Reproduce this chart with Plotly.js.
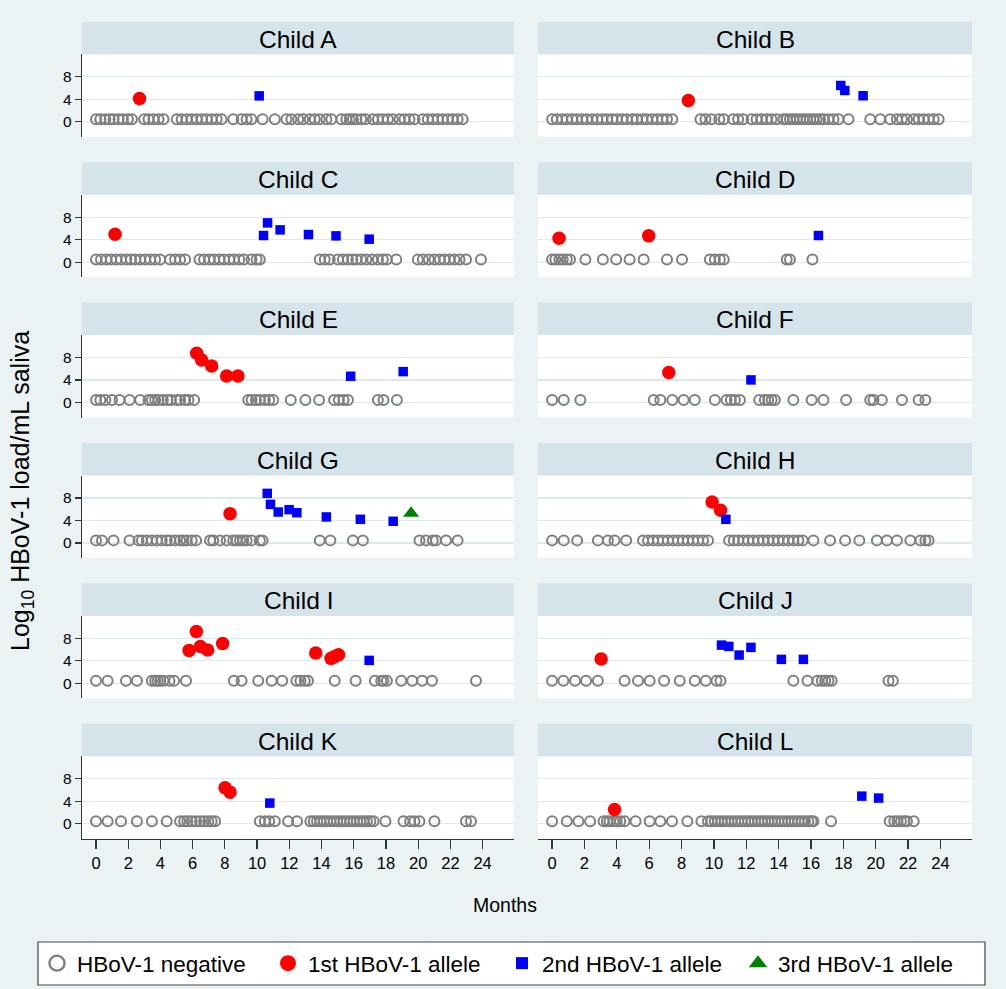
<!DOCTYPE html>
<html><head><meta charset="utf-8">
<script src="https://cdn.plot.ly/plotly-3.0.1.min.js"></script>
<style>html,body{margin:0;padding:0;background:#ffffff}</style>
</head><body>
<div id="chart" style="width:1006px;height:989px"></div>
<script>
// ---------------- data (months of age, log10 load/mL) ----------------
const childNames = ['A','B','C','D','E','F','G','H','I','J','K','L'];
const monthTicks = [0,2,4,6,8,10,12,14,16,18,20,22,24];
const loadTicks = [0,4,8];
const NEG_LEVEL = 0.45;

const A_neg = [0,0.27,0.58,0.85,1.09,1.40,1.67,1.98,2.23,2.99,3.26,3.57,3.88,4.19,5.01,5.32,5.63,5.94,6.25,6.57,6.87,7.18,7.49,7.80,8.52,9.04,9.35,9.65,10.34,11.10,11.82,12.13,12.55,12.86,13.27,13.58,13.89,14.30,14.61,15.23,15.54,15.75,15.95,16.16,16.47,16.74,17.19,17.50,17.81,18.12,18.43,18.84,19.15,19.46,19.77,20.29,20.60,20.91,21.22,21.52,21.84,22.14,22.45,22.76];
const A_1m = [2.70], A_1v = [4.14];
const A_2m = [10.13], A_2v = [4.60];

const B_neg = [0,0.29,0.62,0.91,1.24,1.53,1.86,2.15,2.48,2.79,3.10,3.39,3.72,4.00,4.33,4.62,4.96,5.24,5.57,5.86,6.19,6.50,6.81,7.10,7.43,9.17,9.48,9.85,10.33,10.61,11.19,11.50,11.81,12.33,12.64,12.95,13.26,13.56,13.88,14.29,14.50,14.70,14.91,15.12,15.32,15.53,15.73,15.94,16.15,16.35,16.56,16.77,17.08,17.39,17.70,18.32,19.66,20.28,20.90,21.31,21.62,21.93,22.34,22.65,22.96,23.27,23.58,23.89];
const B_1m = [8.42], B_1v = [3.79];
const B_2m = [17.84,18.09,19.22], B_2v = [6.45,5.56,4.62];

const C_neg = [0,0.31,0.64,0.93,1.26,1.55,1.88,2.17,2.43,2.74,3.05,3.36,3.67,3.98,4.60,4.91,5.22,5.53,6.42,6.71,7.04,7.33,7.66,7.95,8.27,8.56,8.89,9.18,9.65,9.97,10.17,13.89,14.20,14.51,15.02,15.33,15.64,15.91,16.16,16.47,16.78,17.15,17.50,17.81,18.06,18.64,19.98,20.29,20.66,21.01,21.34,21.63,21.94,22.25,22.57,22.97,23.90];
const C_1m = [1.18], C_1v = [4.97];
const C_2m = [10.40,10.65,11.43,13.19,14.90,16.96], C_2v = [4.73,6.98,5.74,4.91,4.67,4.08];

const D_neg = [0,0.20,0.45,0.66,0.91,1.11,2.06,3.14,3.96,4.79,5.66,7.10,8.03,9.75,10.06,10.37,10.61,14.50,14.70,16.09];
const D_1m = [0.43,5.97], D_1v = [4.26,4.67];
const D_2m = [16.46], D_2v = [4.73];

const E_neg = [0,0.27,0.58,0.99,1.46,2.08,2.74,3.26,3.46,3.67,3.88,4.15,4.44,4.65,5.01,5.22,5.53,5.74,6.09,9.45,9.66,9.93,10.17,10.48,10.75,11.00,12.09,13.00,13.85,14.78,15.08,15.37,15.64,17.50,17.85,18.68];
const E_1m = [6.25,6.56,7.18,8.11,8.81], E_1v = [8.76,7.57,6.51,4.73,4.73];
const E_2m = [15.81,19.07], E_2v = [4.67,5.50];

const F_neg = [0,0.72,1.75,6.28,6.69,7.43,8.13,8.82,10.06,10.78,11.05,11.30,11.61,12.80,13.15,13.36,13.57,13.77,14.91,16.04,16.77,18.17,19.66,19.86,20.38,21.62,22.65,23.07];
const F_1m = [7.21], F_1v = [5.33];
const F_2m = [12.29], F_2v = [4.02];

const G_neg = [0,0.37,1.09,2.08,2.64,2.85,3.15,3.47,3.78,4.08,4.39,4.60,4.91,5.22,5.43,5.63,5.94,6.21,7.08,7.28,7.70,8.11,8.52,8.73,8.94,9.14,9.35,9.66,10.17,10.34,13.89,14.55,15.95,16.57,20.08,20.49,20.91,21.11,21.73,22.45];
const G_1m = [8.32], G_1v = [5.21];
const G_2m = [10.63,10.83,11.31,11.99,12.47,14.30,16.41,18.45], G_2v = [8.82,6.86,5.50,5.92,5.38,4.62,4.20,3.85];
const G_3m = [19.56], G_3v = [5.27];

const H_neg = [0,0.72,1.55,2.83,3.45,3.86,4.58,5.62,5.93,6.24,6.55,6.85,7.16,7.47,7.78,8.09,8.40,8.71,9.02,9.33,9.64,10.94,11.23,11.50,11.81,12.12,12.43,12.74,13.05,13.36,13.67,13.98,14.29,14.60,14.91,15.22,15.49,16.15,17.18,18.11,18.99,20.07,20.69,21.31,22.14,22.76,23.07,23.27];
const H_1m = [9.89,10.41], H_1v = [7.28,5.80];
const H_2m = [10.74], H_2v = [4.20];

const I_neg = [0,0.72,1.86,2.54,3.47,3.67,3.82,3.98,4.19,4.56,4.85,5.59,8.56,9.04,10.07,10.90,11.56,12.44,12.69,12.96,13.16,14.82,16.12,17.31,17.71,17.85,18.06,18.95,19.63,20.25,20.86,23.59];
const I_1m = [5.78,6.23,6.48,6.93,7.86,13.64,14.59,14.82,15.06], I_1v = [5.86,9.23,6.57,5.92,7.10,5.38,4.44,4.79,5.09];
const I_2m = [16.96], I_2v = [4.08];

const J_neg = [0,0.70,1.42,2.10,2.83,4.48,5.31,6.03,6.92,7.89,8.82,9.50,10.16,10.41,14.91,15.78,16.40,16.67,16.87,17.08,17.28,20.79,21.06];
const J_1m = [3.03], J_1v = [4.32];
const J_2m = [10.47,10.92,11.56,12.29,14.17,15.53], J_2v = [6.80,6.57,5.03,6.39,4.26,4.26];

const K_neg = [0,0.72,1.55,2.54,3.47,4.39,5.22,5.47,5.67,5.94,6.21,6.46,6.71,6.97,7.18,7.39,10.17,10.48,10.75,11.10,11.93,12.48,13.31,13.52,13.72,13.93,14.14,14.34,14.55,14.76,14.96,15.17,15.38,15.58,15.79,16.00,16.20,16.41,16.61,16.82,17.03,17.23,17.97,19.09,19.50,19.77,20.08,21.01,22.97,23.28];
const K_1m = [8.01,8.32], K_1v = [6.39,5.62];
const K_2m = [10.79], K_2v = [3.67];

const L_neg = [0,0.91,1.63,2.35,3.18,3.39,3.55,3.80,4.00,4.21,4.48,5.16,6.03,6.69,7.41,8.36,9.23,9.64,9.85,10.06,10.26,10.47,10.68,10.88,11.09,11.30,11.50,11.71,11.92,12.12,12.33,12.53,12.74,12.95,13.15,13.36,13.57,13.77,13.98,14.19,14.39,14.60,14.81,15.01,15.22,15.43,15.63,15.84,16.04,16.15,17.24,20.86,21.15,21.35,21.56,21.77,21.93,22.35];
const L_1m = [3.86], L_1v = [2.54];
const L_2m = [19.14,20.18], L_2v = [4.91,4.56];

const seriesNames = ['HBoV-1 negative','1st HBoV-1 allele','2nd HBoV-1 allele','3rd HBoV-1 allele'];

// table assembled from the arrays above
const panels = {
  A:{neg:A_neg, s1:[A_1m,A_1v], s2:[A_2m,A_2v]},
  B:{neg:B_neg, s1:[B_1m,B_1v], s2:[B_2m,B_2v]},
  C:{neg:C_neg, s1:[C_1m,C_1v], s2:[C_2m,C_2v]},
  D:{neg:D_neg, s1:[D_1m,D_1v], s2:[D_2m,D_2v]},
  E:{neg:E_neg, s1:[E_1m,E_1v], s2:[E_2m,E_2v]},
  F:{neg:F_neg, s1:[F_1m,F_1v], s2:[F_2m,F_2v]},
  G:{neg:G_neg, s1:[G_1m,G_1v], s2:[G_2m,G_2v], s3:[G_3m,G_3v]},
  H:{neg:H_neg, s1:[H_1m,H_1v], s2:[H_2m,H_2v]},
  I:{neg:I_neg, s1:[I_1m,I_1v], s2:[I_2m,I_2v]},
  J:{neg:J_neg, s1:[J_1m,J_1v], s2:[J_2m,J_2v]},
  K:{neg:K_neg, s1:[K_1m,K_1v], s2:[K_2m,K_2v]},
  L:{neg:L_neg, s1:[L_1m,L_1v], s2:[L_2m,L_2v]}
};

// ---------------- styling / geometry ----------------
const W = 1006, H = 989;
const FONT = 'Liberation Sans, Arial, Helvetica, sans-serif';
const colX = [[82,514],[538,972]];
const ROW0 = 21.7, ROWSTEP = 140.4, HEAD = 32.6, PANEL = 115;
const styles = [
  {mode:'markers', marker:{symbol:'circle-open', size:10, color:'#7f7f7f', line:{width:2, color:'#7f7f7f'}}},
  {mode:'markers', marker:{symbol:'circle', size:13.5, color:'#ff0000'}},
  {mode:'markers', marker:{symbol:'square', size:9.5, color:'#0000ff'}},
  {mode:'markers', marker:{symbol:'triangle-up', size:14, color:'#007f00'}}
];
// larger key symbols for the legend box
const keyStyles = [
  {mode:'markers', marker:{symbol:'circle-open', size:15, color:'#7f7f7f', line:{width:2.4, color:'#7f7f7f'}}},
  {mode:'markers', marker:{symbol:'circle', size:16, color:'#ff0000'}},
  {mode:'markers', marker:{symbol:'square', size:12, color:'#0000ff'}},
  {mode:'markers', marker:{symbol:'triangle-up', size:16, color:'#007f00'}}
];
const legendIds = ['legend','legend2','legend3','legend4'];

const traces = [];
const layout = {
  width: W, height: H,
  margin:{l:0,r:0,t:0,b:0},
  paper_bgcolor:'#eaf2f3',
  plot_bgcolor:'#ffffff',
  font:{family:FONT, color:'#000'},
  shapes:[], annotations:[]
};

function addTrace(k, xs, ys, axn){
  traces.push(Object.assign({type:'scatter', x:xs, y:ys, name:seriesNames[k],
    xaxis:'x'+axn, yaxis:'y'+axn, cliponaxis:false, hoverinfo:'x+y',
    showlegend:false}, JSON.parse(JSON.stringify(styles[k]))));
}

childNames.forEach((c, i) => {
  const row = Math.floor(i/2), col = i%2;
  const n = i+1;
  const axn = n === 1 ? '' : String(n);
  const top = ROW0 + ROWSTEP*row;
  const hb = top + HEAD, pb = top + PANEL;
  const xd = [colX[col][0]/W, colX[col][1]/W];
  const yd = [1 - pb/H, 1 - hb/H];
  const bottom = row === 5, left = col === 0;
  layout['xaxis'+axn] = {
    domain: xd, range:[-0.87, 25.95], anchor:'y'+axn,
    tickvals: monthTicks, ticktext: monthTicks.map(String),
    showticklabels: bottom, ticks: bottom ? 'outside':'', ticklen:9, tickwidth:1.2, tickcolor:'#333',
    showline: bottom, linecolor:'#333', linewidth:1.2,
    showgrid:false, zeroline:false, fixedrange:true,
    tickfont:{size:16.5, family:FONT, color:'#000'}
  };
  layout['yaxis'+axn] = {
    domain: yd, range:[-2.67, 12], anchor:'x'+axn,
    tickvals: loadTicks, ticktext: loadTicks.map(String),
    showticklabels: left, ticks: left ? 'outside':'', ticklen:6, tickwidth:1.2, tickcolor:'#333',
    showline: left, linecolor:'#333', linewidth:1.2,
    showgrid:true, gridcolor:'#dde9ec', gridwidth:1.2, zeroline:false, fixedrange:true,
    tickfont:{size:15.5, family:FONT, color:'#000'}
  };
  // header strip
  layout.shapes.push({type:'rect', xref:'paper', yref:'paper', x0:xd[0], x1:xd[1],
    y0:1-hb/H, y1:1-top/H, fillcolor:'#d5e4eb', line:{width:0}, layer:'below'});
  layout.annotations.push({xref:'paper', yref:'paper', x:(xd[0]+xd[1])/2, y:1-(top+HEAD/2+1)/H,
    text:'Child '+c, showarrow:false, xanchor:'center', yanchor:'middle',
    font:{size:24.5, family:FONT, color:'#000'}});
  const p = panels[c];
  addTrace(0, p.neg, p.neg.map(() => NEG_LEVEL), axn);
  addTrace(1, p.s1[0], p.s1[1], axn);
  addTrace(2, p.s2[0], p.s2[1], axn);
  if (p.s3) addTrace(3, p.s3[0], p.s3[1], axn);
});

// legend key entries (a single missing value each, so only the legend key is drawn)
seriesNames.forEach((nm, k) => {
  traces.push(Object.assign({type:'scatter', x:[null], y:[null], name:nm, xaxis:'x', yaxis:'y',
    showlegend:true, legend:legendIds[k], hoverinfo:'skip'}, JSON.parse(JSON.stringify(keyStyles[k]))));
});

// axis titles
layout.annotations.push({xref:'paper', yref:'paper', x:505/W, y:1-905/H, text:'Months',
  showarrow:false, xanchor:'center', yanchor:'middle', font:{size:19.5, family:FONT, color:'#000'}});
layout.annotations.push({xref:'paper', yref:'paper', x:22/W, y:1-491/H,
  text:'Log<sub>10</sub> HBoV-1 load/mL saliva', textangle:-90,
  showarrow:false, xanchor:'center', yanchor:'middle', font:{size:25, family:FONT, color:'#000'}});

// legend frame
layout.shapes.push({type:'rect', xref:'paper', yref:'paper', x0:38/W, x1:985/W, y0:1-985/H, y1:1-942/H,
  fillcolor:'#ffffff', line:{color:'#444', width:1.2}, layer:'below'});
const legX = [57, 288, 522, 758];
legendIds.forEach((id, k) => {
  layout[id] = {x:(legX[k]-20)/W, xanchor:'left', y:1-963.5/H, yanchor:'middle',
    orientation:'h', bgcolor:'rgba(0,0,0,0)', borderwidth:0,
    font:{size:22.5, family:FONT, color:'#000'}};
});

Plotly.newPlot('chart', traces, layout, {staticPlot:true, displayModeBar:false});
</script>
</body></html>
